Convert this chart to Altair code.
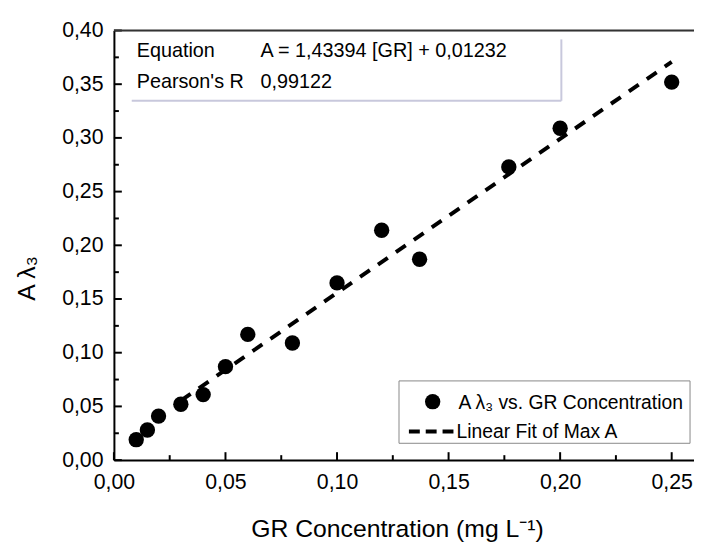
import altair as alt
import pandas as pd

# ---- data ----
conc = [0.010, 0.015, 0.020, 0.030, 0.040, 0.050, 0.060, 0.080, 0.100, 0.120, 0.137, 0.177, 0.200, 0.250]
absorb = [0.019, 0.028, 0.041, 0.052, 0.061, 0.087, 0.117, 0.109, 0.165, 0.214, 0.187, 0.273, 0.309, 0.352]
fit_x = [0.03, 0.25]
slope = 1.43394
intercept = 0.01232

x_major = [0.0, 0.05, 0.10, 0.15, 0.20, 0.25]
x_minor = [0.025, 0.075, 0.125, 0.175, 0.225]
y_major = [0.0, 0.05, 0.10, 0.15, 0.20, 0.25, 0.30, 0.35, 0.40]
y_minor = [0.025, 0.075, 0.125, 0.175, 0.225, 0.275, 0.325, 0.375]

eq_label = "Equation"
eq_text = "A = 1,43394 [GR] + 0,01232"
r_label = "Pearson's R"
r_text = "0,99122"
legend_pts = "A λ₃ vs. GR Concentration"
legend_fit = "Linear Fit of Max A"
x_title = "GR Concentration (mg L⁻¹)"
y_title = "A λ₃"

W, H = 586, 434
FONT = "Liberation Sans"
XDOM = [0, 0.26]
YDOM = [0, 0.40]

xs = alt.Scale(domain=XDOM, nice=False, zero=False)
ys = alt.Scale(domain=YDOM, nice=False, zero=False)

lab_expr = "replace(format(datum.value, '.2f'), '.', ',')"

pts_df = pd.DataFrame({"x": conc, "y": absorb})
fit_df = pd.DataFrame({"x": fit_x})
one = alt.Data(values=[{"k": 0}])

points = alt.Chart(pts_df).mark_circle(size=240, color="black", opacity=1).encode(
    x=alt.X("x:Q", scale=xs, axis=alt.Axis(
        values=x_major, labelExpr=lab_expr, ticks=False, tickSize=0, grid=False,
        labelFlush=False, labelOverlap=False,
        domainColor="black", domainWidth=2, labelFont=FONT, labelFontSize=21.5,
        labelColor="black", labelPadding=12, title=x_title, titleFont=FONT,
        titleFontSize=25, titleFontWeight="normal", titleColor="black",
        titleX=286, titleY=77, titleBaseline="alphabetic")),
    y=alt.Y("y:Q", scale=ys, axis=alt.Axis(
        values=y_major, labelExpr=lab_expr, ticks=False, tickSize=0, grid=False,
        labelFlush=False, labelOverlap=False,
        domainColor="black", domainWidth=2, labelFont=FONT, labelFontSize=21.5,
        labelColor="black", labelPadding=11, title=y_title, titleFont=FONT,
        titleFontSize=25, titleFontWeight="normal", titleColor="black",
        titleX=-80, titleY=250, titleAngle=270, titleAlign="center",
        titleBaseline="alphabetic")),
)

fit = alt.Chart(fit_df).transform_calculate(
    y=f"{slope} * datum.x + {intercept}"
).mark_line(color="black", strokeWidth=4, strokeDash=[12, 10], strokeCap="butt").encode(
    x=alt.X("x:Q", scale=xs),
    y=alt.Y("y:Q", scale=ys),
)

def tick_layer(vals, axis, length):
    df = pd.DataFrame({"v": vals})
    if axis == "x":
        return alt.Chart(df).mark_rule(color="black", strokeWidth=2).encode(
            x=alt.X("v:Q", scale=xs), y=alt.value(H), y2=alt.value(H - length))
    return alt.Chart(df).mark_rule(color="black", strokeWidth=2).encode(
        y=alt.Y("v:Q", scale=ys), x=alt.value(0), x2=alt.value(length))

ticks = [tick_layer(x_major, "x", 8), tick_layer(x_minor, "x", 5),
         tick_layer(y_major, "y", 8), tick_layer(y_minor, "y", 5)]

top_border = alt.Chart(one).mark_rule(color="#333333", strokeWidth=2).encode(
    x=alt.value(0), x2=alt.value(W), y=alt.value(0))

# equation table
eq_bottom = alt.Chart(one).mark_rule(color="#c8c8dc", strokeWidth=2).encode(
    x=alt.value(18), x2=alt.value(452), y=alt.value(71))
eq_right = alt.Chart(one).mark_rule(color="#c8c8dc", strokeWidth=2).encode(
    x=alt.value(452), y=alt.value(9), y2=alt.value(71))

def txt(s, x, y, size=20, align="left"):
    return alt.Chart(one).mark_text(font=FONT, fontSize=size, color="black",
                                    align=align, baseline="alphabetic").encode(
        x=alt.value(x), y=alt.value(y), text=alt.value(s))

texts = [txt(eq_label, 23, 27), txt(eq_text, 148, 27),
         txt(r_label, 23, 58), txt(r_text, 148, 58)]

# legend
leg_box = alt.Chart(one).mark_rect(fill="white", stroke="#888888", strokeWidth=1).encode(
    x=alt.value(288), x2=alt.value(582), y=alt.value(354), y2=alt.value(417))
leg_dot = alt.Chart(one).mark_circle(size=240, color="black", opacity=1).encode(
    x=alt.value(322), y=alt.value(375))
leg_line = alt.Chart(one).mark_rule(color="black", strokeWidth=4, strokeDash=[11, 6], strokeCap="butt").encode(
    x=alt.value(298), x2=alt.value(346), y=alt.value(405))
leg_texts = [txt(legend_pts, 348, 382, size=19.5), txt(legend_fit, 346, 412, size=19.5)]

chart = alt.layer(
    points, fit, *ticks, top_border, eq_bottom, eq_right, *texts,
    leg_box, leg_dot, leg_line, *leg_texts
).properties(
    width=W, height=H,
    autosize=alt.AutoSizeParams(type="none"),
    padding={"left": 107, "top": 20, "right": 0, "bottom": 80},
).configure_view(stroke=None).configure(background="white")

chart.save("out.html", embed_options={"renderer": "svg", "actions": False})
